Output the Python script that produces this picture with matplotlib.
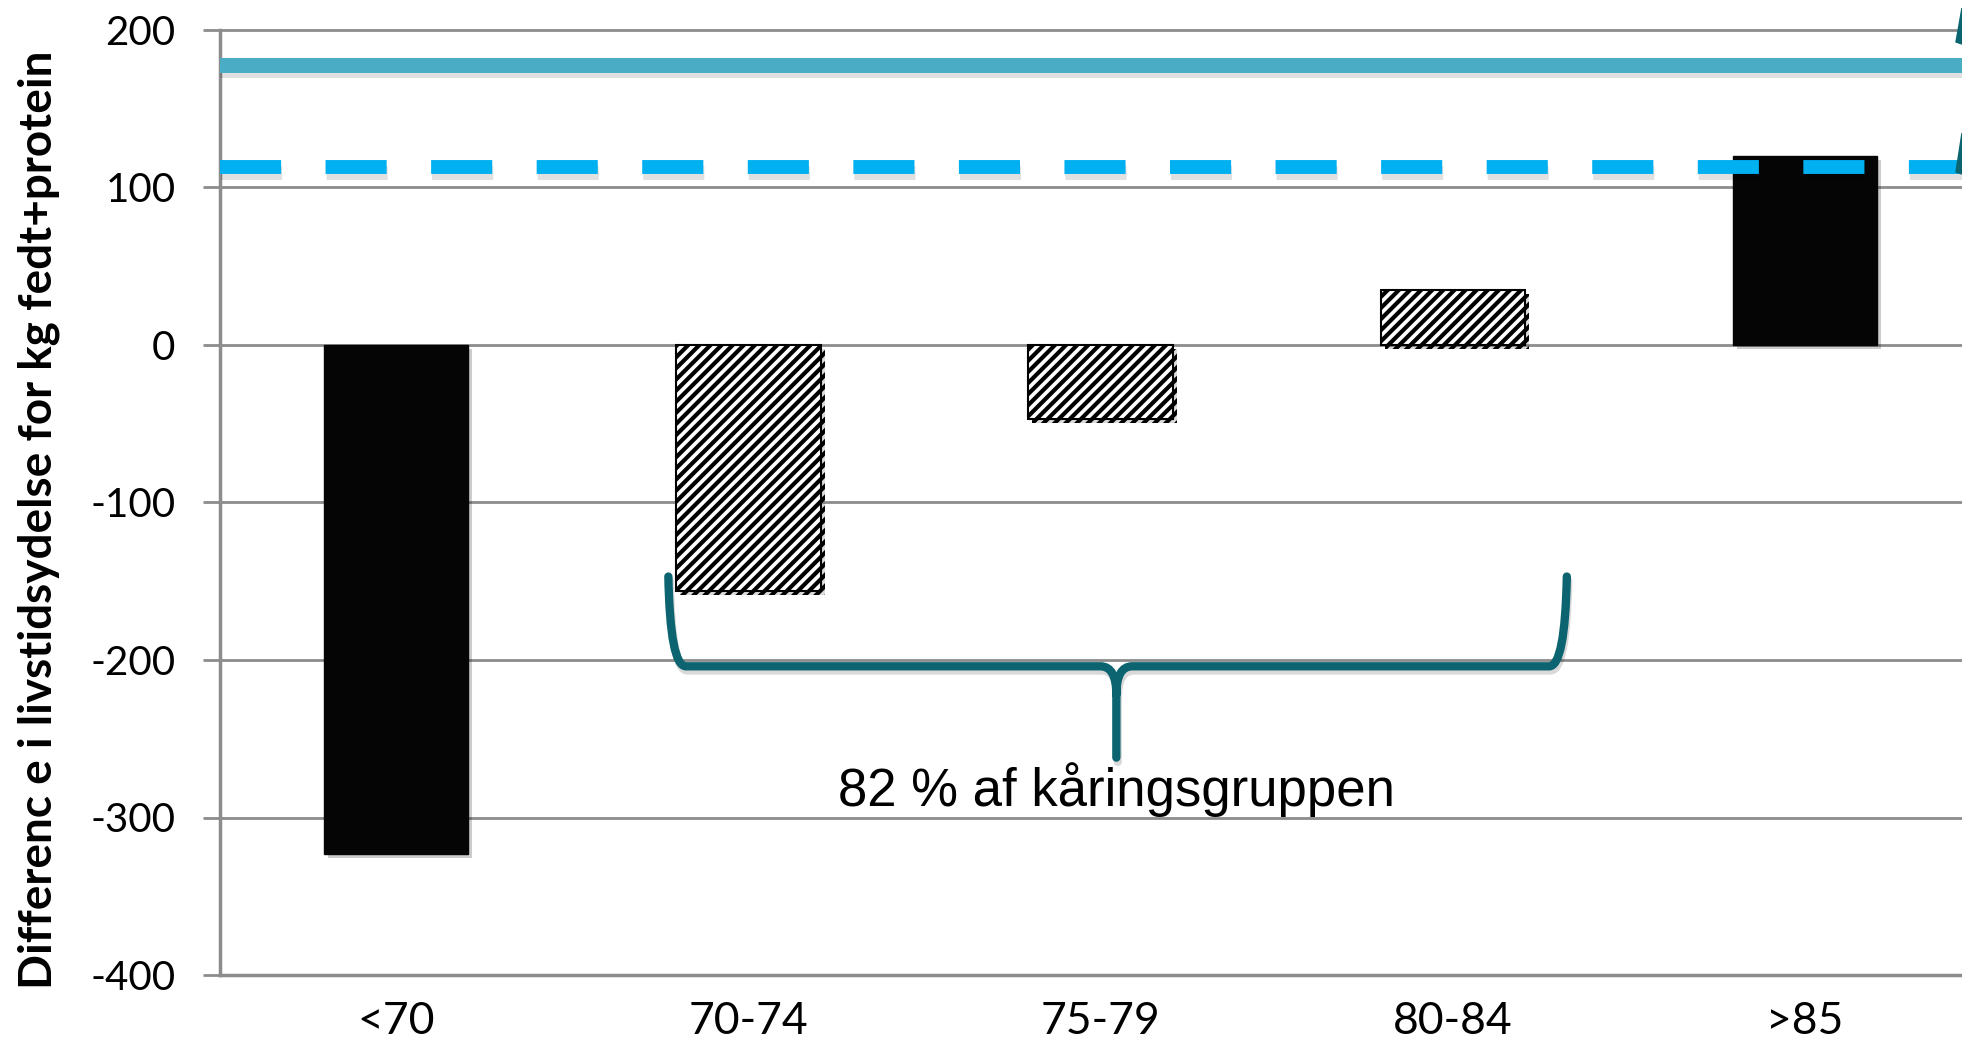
import matplotlib
matplotlib.use('Agg')
import matplotlib.pyplot as plt
import matplotlib.patheffects as pe
from matplotlib.path import Path
from matplotlib.patches import PathPatch, Polygon

categories = ['<70', '70-74', '75-79', '80-84', '>85']
values = [-323, -156, -47, 35, 120]
styles = ['solid', 'hatch', 'hatch', 'hatch', 'solid']
solid_level = 178
dashed_level = 113
y_ticks = [-400, -300, -200, -100, 0, 100, 200]
ylabel = 'Differenc e i livstidsydelse for kg fedt+protein'
brace_text = '82 % af kåringsgruppen'

plt.rcParams['font.family'] = ['Lato', 'DejaVu Sans']
plt.rcParams['hatch.linewidth'] = 3.0

grid_col = '#8c8c8c'
teal = '#0b6470'
W, H = 1962, 1045

fig = plt.figure(figsize=(W / 100, H / 100), dpi=100)
ax = fig.add_axes([220 / W, 70 / H, 1 - 220 / W, 945 / H])

x = list(range(len(categories)))
for xi, v, s in zip(x, values, styles):
    if s == 'solid':
        b = ax.bar(xi, v, width=0.41, color='#050505', edgecolor='#050505', zorder=3)
    else:
        b = ax.bar(xi, v, width=0.41, color='white', edgecolor='black', hatch='///',
                   linewidth=1.5, zorder=3)
    b[0].set_path_effects([pe.withSimplePatchShadow(offset=(3, -3), alpha=0.2)])

shadow = [pe.SimpleLineShadow(offset=(1, -4), alpha=0.12), pe.Normal()]
ax.axhline(solid_level, color='#4bacc6', lw=10.8, zorder=4, path_effects=shadow)
ax.axhline(dashed_level, color='#00b0f0', lw=10, linestyle=(0, (4.4, 3.2)),
           dash_capstyle='butt', zorder=4, path_effects=shadow)

# brace under the middle groups
x0, x1, xc = 0.773, 3.324, 2.045
ytop, yh, ytip = -147, -204, -262
verts = [(x0, ytop), (x0 + 0.005, yh), (x0 + 0.05, yh), (xc - 0.045, yh),
         (xc, yh), (xc, yh - 18), (xc, ytip),
         (x1, ytop), (x1 - 0.005, yh), (x1 - 0.05, yh), (xc + 0.045, yh),
         (xc, yh), (xc, yh - 18)]
codes = [Path.MOVETO, Path.CURVE3, Path.CURVE3, Path.LINETO,
         Path.CURVE3, Path.CURVE3, Path.LINETO,
         Path.MOVETO, Path.CURVE3, Path.CURVE3, Path.LINETO,
         Path.CURVE3, Path.CURVE3]
ax.add_patch(PathPatch(Path(verts, codes), facecolor='none', edgecolor=teal, lw=6,
                       capstyle='round', joinstyle='round', zorder=5,
                       path_effects=[pe.SimpleLineShadow(offset=(1, -3), alpha=0.15), pe.Normal()]))
ax.text(xc, -293, brace_text, ha='center', va='baseline', fontsize=38,
        family='Liberation Sans', zorder=6)

# cut-off arrow heads at the right edge (pixel outlines)
for pts in [[(1962, 8), (1956, 42), (1962, 44)], [(1962, 133), (1956, 172), (1962, 174)]]:
    fig.patches.append(Polygon([(px / W, 1 - py / H) for px, py in pts], closed=True,
                               transform=fig.transFigure, color=teal, zorder=10))

ax.set_xlim(-0.5, 4.446)
ax.set_ylim(-400, 200)
ax.set_yticks(y_ticks)
ax.set_yticklabels([str(t) for t in y_ticks], fontsize=29)
ax.set_xticks(x)
ax.set_xticklabels(categories, fontsize=32)
ax.tick_params(axis='y', length=12, width=2, color=grid_col, pad=20)
ax.tick_params(axis='x', length=0, pad=19)
ax.yaxis.grid(True, color=grid_col, lw=2, zorder=0)
for gl in ax.get_ygridlines():
    gl.set_clip_on(False)
ax.set_axisbelow(True)
for sp in ['top', 'right']:
    ax.spines[sp].set_visible(False)
for sp in ['left', 'bottom']:
    ax.spines[sp].set_color(grid_col)
    ax.spines[sp].set_linewidth(2.5)

fig.text(39 / W, 0.503, ylabel, rotation=90, ha='center', va='center',
         fontsize=33, fontweight='bold')

fig.savefig('out.png', dpi=100)
